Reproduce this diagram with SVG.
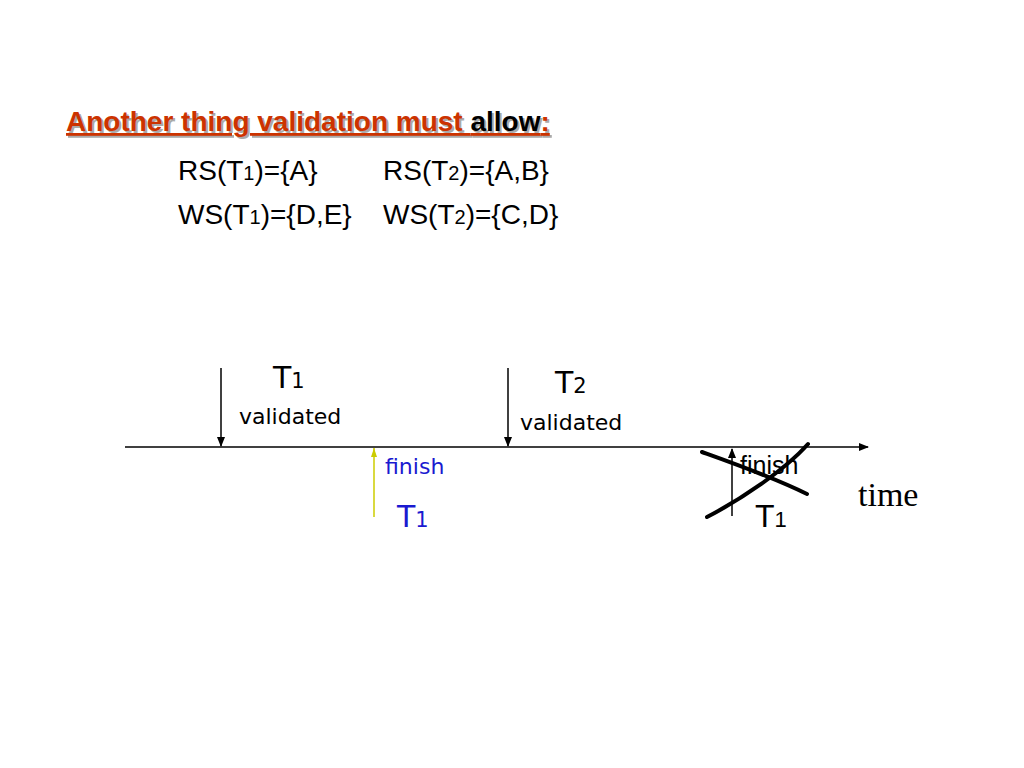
<svg xmlns="http://www.w3.org/2000/svg" width="1024" height="768" viewBox="0 0 1024 768">
<defs>
<style>
.s{font-family:"Liberation Sans",Arial,sans-serif;fill:#000}
.v{font-family:"DejaVu Sans",Verdana,sans-serif;fill:#000}
.t{font-family:"Liberation Sans",Arial,sans-serif;font-weight:bold;font-size:28px}
.ln{stroke:#000;stroke-width:1.5;fill:none}
.x{stroke:#000;stroke-width:4;fill:none;stroke-linecap:round}
</style>
<marker id="ah" markerWidth="10" markerHeight="10" refX="9" refY="5" orient="auto" markerUnits="userSpaceOnUse"><path d="M0,1 L10,5 L0,9 z" fill="#000"/></marker>
<marker id="ay" markerWidth="10" markerHeight="10" refX="9" refY="5" orient="auto" markerUnits="userSpaceOnUse"><path d="M0,2 L9,5 L0,8 z" fill="#cccc00"/></marker>
</defs>
<rect width="1024" height="768" fill="#fff"/>
<g id="title">
<text class="t" x="68" y="133" fill="#aaa" text-decoration="underline">Another thing validation must <tspan fill="#aaa">allow</tspan>:</text>
<text class="t" x="66" y="131" fill="#cc3300" text-decoration="underline">Another thing validation must <tspan fill="#000">allow</tspan>:</text>
</g>
<g id="sets" class="s" font-size="28">
<text x="178" y="180">RS(T<tspan font-size="20">1</tspan>)={A}</text>
<text x="383" y="180">RS(T<tspan font-size="20">2</tspan>)={A,B}</text>
<text x="178" y="224">WS(T<tspan font-size="20">1</tspan>)={D,E}</text>
<text x="383" y="224">WS(T<tspan font-size="20">2</tspan>)={C,D}</text>
</g>
<g id="connectors">
<line class="ln" x1="125" y1="447" x2="868" y2="447" marker-end="url(#ah)"/>
<line class="ln" x1="221" y1="368" x2="221" y2="446" marker-end="url(#ah)"/>
<line class="ln" x1="508" y1="368" x2="508" y2="446" marker-end="url(#ah)"/>
<line x1="374" y1="517" x2="374" y2="448" stroke="#cccc00" stroke-width="1.5" marker-end="url(#ay)"/>
<line class="ln" x1="732" y1="516" x2="732" y2="449" marker-end="url(#ah)"/>
</g>
<g id="t1validated" class="v">
<text x="273" y="388" font-size="30">T<tspan font-size="21">1</tspan></text>
<text x="239" y="424" font-size="22">validated</text>
</g>
<g id="t2validated" class="v">
<text x="555" y="393" font-size="30">T<tspan font-size="21">2</tspan></text>
<text x="520" y="430" font-size="22">validated</text>
</g>
<g id="t1finish">
<text class="v" x="385" y="474" font-size="22" style="fill:#1a1ad0">finish</text>
<text class="v" x="397" y="527" font-size="30" style="fill:#1a1ad0">T<tspan font-size="21">1</tspan></text>
</g>
<g id="t1finish2" class="s">
<text x="740" y="474" font-size="25">finish</text>
<text x="755" y="527" font-size="32">T<tspan font-size="22">1</tspan></text>
<path class="x" d="M702,452 C730,462 770,476 807,494"/>
<path class="x" d="M707,517 C740,500 785,470 808,444"/>
</g>
<g id="time">
<text x="858" y="506" font-family="Liberation Serif,Times New Roman,serif" font-size="34">time</text>
</g>
</svg>
